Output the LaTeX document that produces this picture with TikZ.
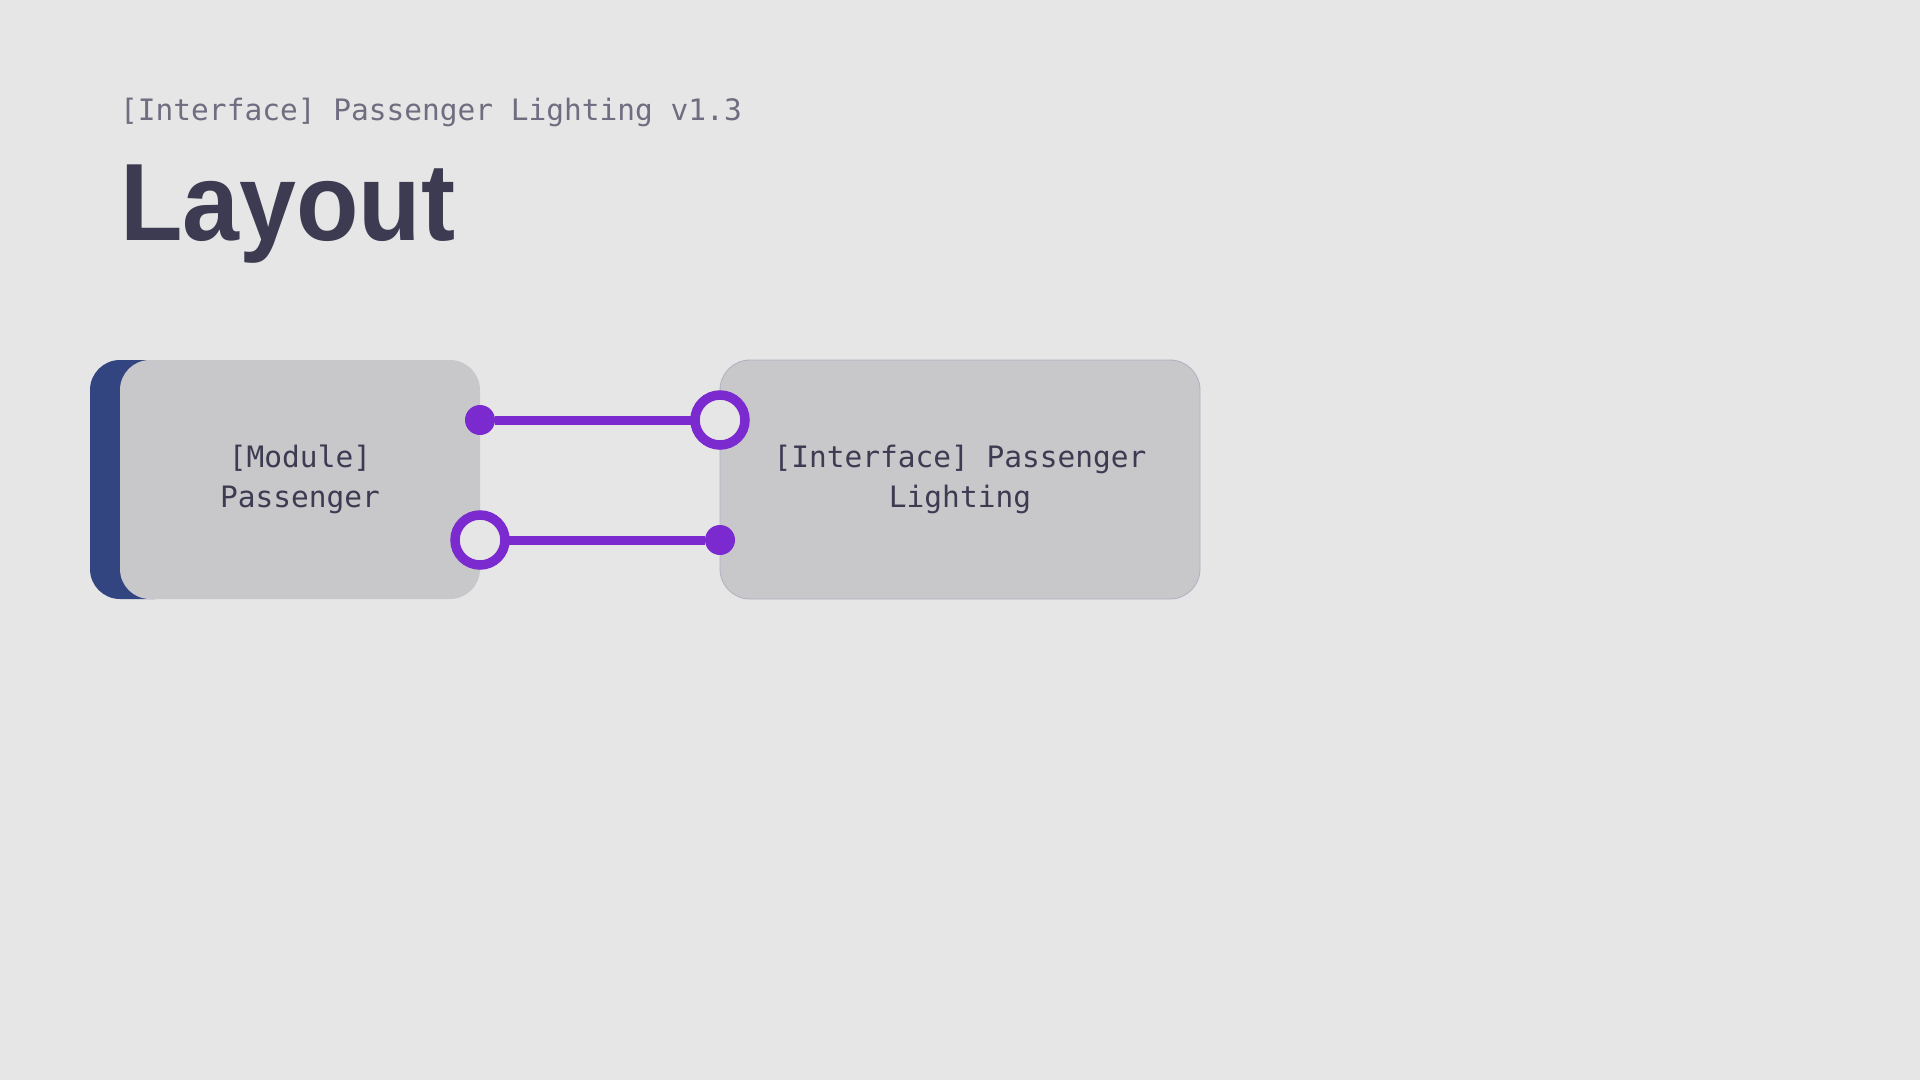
\documentclass[tikz,border=0pt]{standalone}
\usepackage{fontspec}
\setmainfont{Liberation Sans}
\setmonofont{DejaVu Sans Mono}
\definecolor{bgc}{HTML}{E6E6E6}
\definecolor{boxc}{HTML}{C8C8CB}
\definecolor{sidec}{HTML}{334580}
\definecolor{purp}{HTML}{7B2AD0}
\definecolor{inkc}{HTML}{3D3B52}
\definecolor{subc}{HTML}{6F6D80}
\definecolor{edgec}{HTML}{B0B0C0}
\begin{document}
\begin{tikzpicture}[x=1pt,y=-1pt,
  boxtext/.style={font=\ttfamily\fontsize{29.5}{40}\selectfont, text=inkc, align=center},
  compbox/.style={boxtext, fill=boxc, rounded corners=30pt, minimum width=360pt, minimum height=239pt, inner sep=0pt},
  dot/.style={circle, fill=purp, minimum size=30pt, inner sep=0pt, outer sep=0pt},
  ring/.style={circle, draw=purp, line width=9.5pt, fill=bgc, minimum size=50pt, inner sep=0pt, outer sep=0pt},
  conn/.style={draw=purp, line width=9pt}
]
\fill[bgc] (0,0) rectangle (1920,1080);
\useasboundingbox (0,0) rectangle (1920,1080);

% header
\node[anchor=base west, inner sep=0pt, font=\ttfamily\fontsize{29.5}{36}\selectfont, text=subc] (sub) at (120,120) {[Interface] Passenger Lighting v1.3};
\node[anchor=base west, inner sep=0pt, font=\bfseries\fontsize{110}{120}\selectfont, text=inkc] (title) at (120,240) {\scalebox{0.93}[1]{Layout}};

% left component with side strip
\fill[sidec] (155,360) [rounded corners=30pt] -- (90,360) -- (90,599) [sharp corners] -- (155,599) -- cycle;
\node[compbox] (mod) at (300,479.5) {[Module]\\Passenger};

% right component
\node[compbox, minimum width=480pt, draw=edgec, line width=0.8pt] (intf) at (960,479.5) {[Interface] Passenger\\Lighting};

% ports
\node[dot] (p1) at (480,420) {};
\node[ring] (r1) at (720,420) {};
\node[ring] (r2) at (480,540) {};
\node[dot] (p2) at (720,540) {};

\draw[conn] (p1) -- (r1);
\draw[conn] (r2) -- (p2);
\end{tikzpicture}
\end{document}
